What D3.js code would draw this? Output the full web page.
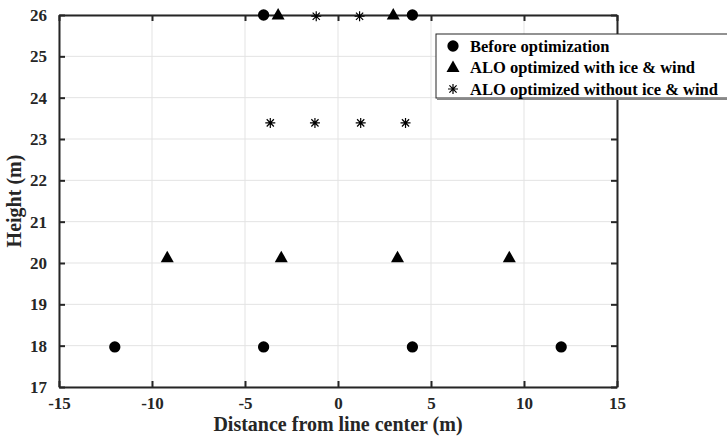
<!DOCTYPE html>
<html>
<head>
<meta charset="utf-8">
<script src="https://cdn.jsdelivr.net/npm/d3@7"></script>
<style>
  body { margin: 0; background: #fff; }
  svg { font-family: "Liberation Serif", "Times New Roman", serif; font-weight: bold; }
</style>
</head>
<body>
<svg width="727" height="440"></svg>
<script>
// conductor positions
var beforeX = [-4, 4, -12, -4, 4, 12];
var beforeY = [26, 26, 17.97, 17.97, 17.97, 17.97];
var iceX = [-3.22, 2.97, -9.18, -3.05, 3.2, 9.21];
var iceY = [26, 26, 20.13, 20.13, 20.13, 20.13];
var noIceX = [-1.17, 1.16, -3.64, -1.24, 1.22, 3.63];
var noIceY = [25.97, 25.97, 23.39, 23.39, 23.39, 23.39];

var xTicks = [-15, -10, -5, 0, 5, 10, 15];
var yTicks = [17, 18, 19, 20, 21, 22, 23, 24, 25, 26];
var legendLabels = ["Before optimization", "ALO optimized with ice & wind", "ALO optimized without ice & wind"];

var svg = d3.select("svg");
var margin = { top: 15, right: 110, bottom: 53, left: 59 };
var width = 727 - margin.left - margin.right,
  height = 440 - margin.top - margin.bottom;

var x = d3.scaleLinear().domain([-15, 15]).range([0, width]);
var y = d3.scaleLinear().domain([17, 26]).range([height, 0]);

var g = svg.append("g").attr("transform", "translate(" + margin.left + "," + margin.top + ")");

// grid
g.selectAll(".gx").data(xTicks).enter().append("line")
  .attr("x1", d => x(d)).attr("x2", d => x(d)).attr("y1", 0).attr("y2", height)
  .attr("stroke", "#e3e3e3").attr("stroke-width", 1);
g.selectAll(".gy").data(yTicks).enter().append("line")
  .attr("y1", d => y(d)).attr("y2", d => y(d)).attr("x1", 0).attr("x2", width)
  .attr("stroke", "#e3e3e3").attr("stroke-width", 1);

// axes (ticks inward on all sides)
var fmt = d => String(d); // plain hyphen minus like the original
function styleAxis(sel) {
  sel.select(".domain").attr("stroke", "#262626").attr("stroke-width", 2);
  sel.selectAll(".tick line").attr("stroke", "#262626").attr("stroke-width", 2);
  sel.selectAll("text").attr("fill", "#262626").style("font-size", "17px")
    .style("font-family", "Liberation Serif").style("font-weight", "bold");
}
var xAxis = g.append("g").attr("transform", "translate(0," + height + ")")
  .call(d3.axisBottom(x).tickValues(xTicks).tickFormat(fmt).tickSize(-6).tickSizeOuter(0).tickPadding(10));
styleAxis(xAxis);
var xTop = g.append("g")
  .call(d3.axisTop(x).tickValues(xTicks).tickSize(-6).tickSizeOuter(0).tickFormat(""));
styleAxis(xTop);
var yAxis = g.append("g")
  .call(d3.axisLeft(y).tickValues(yTicks).tickFormat(fmt).tickSize(-6).tickSizeOuter(0).tickPadding(12));
styleAxis(yAxis);
var yRight = g.append("g").attr("transform", "translate(" + width + ",0)")
  .call(d3.axisRight(y).tickValues(yTicks).tickSize(-6).tickSizeOuter(0).tickFormat(""));
styleAxis(yRight);

// axis titles
g.append("text").attr("x", width / 2).attr("y", height + 44)
  .attr("text-anchor", "middle").style("font-size", "20px").attr("fill", "#262626")
  .text("Distance from line center (m)");
g.append("text").attr("transform", "translate(-38," + height / 2 + ") rotate(-90)")
  .attr("text-anchor", "middle").style("font-size", "20px").attr("fill", "#262626")
  .text("Height (m)");

// markers
var asterisk = "M-5,0L5,0M0,-5L0,5M-3.6,-3.6L3.6,3.6M-3.6,3.6L3.6,-3.6";
var circleSym = d3.symbol().type(d3.symbolCircle).size(100);
var triSym = "M0,-7L6.5,4.5L-6.5,4.5Z";

function drawMarker(sel, kind) {
  if (kind === 0) sel.append("path").attr("d", circleSym()).attr("fill", "#000");
  else if (kind === 1) sel.append("path").attr("d", triSym).attr("fill", "#000");
  else sel.append("path").attr("d", asterisk).attr("fill", "none").attr("stroke", "#000").attr("stroke-width", 1.2);
}

var series = [[beforeX, beforeY], [iceX, iceY], [noIceX, noIceY]];
series.forEach(function(s, k) {
  var pts = s[0].map((v, i) => [v, s[1][i]]);
  var mk = g.append("g").selectAll("g").data(pts).enter().append("g")
    .attr("transform", d => "translate(" + x(d[0]) + "," + y(d[1]) + ")");
  drawMarker(mk, k);
});

// legend
var lg = svg.append("g").attr("transform", "translate(436,34)");
lg.append("rect").attr("x", 0).attr("y", 0).attr("width", 300).attr("height", 64)
  .attr("fill", "#fff").attr("stroke", "#262626").attr("stroke-width", 1);
lg.append("line").attr("x1", 1).attr("x2", 300).attr("y1", 65).attr("y2", 65)
  .attr("stroke", "#888").attr("stroke-width", 2);
legendLabels.forEach(function(t, i) {
  var row = lg.append("g").attr("transform", "translate(0," + (12 + i * 21.5) + ")");
  var m = row.append("g").attr("transform", "translate(17,0)");
  drawMarker(m, i);
  row.append("text").attr("x", 34).attr("y", 5.5).style("font-size", "16.5px").attr("fill", "#000").text(t);
});
</script>
</body>
</html>
